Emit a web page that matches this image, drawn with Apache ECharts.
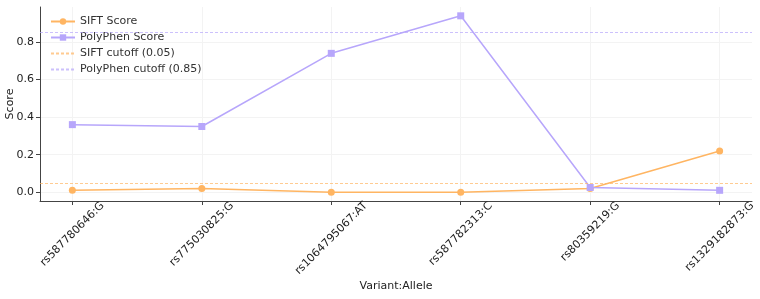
<!DOCTYPE html>
<html>
<head>
<meta charset="utf-8">
<script src="https://cdn.jsdelivr.net/npm/echarts@6/dist/echarts.min.js"></script>
<style>
    html, body { margin: 0; padding: 0; background: #fff; }
    #scoreChart { width: 760px; height: 299px; }
</style>
</head>
<body>
<div id="scoreChart"></div>
<script>
    // variants on the x axis
    var variants = ['rs587780646:G', 'rs775030825:G', 'rs1064795067:AT', 'rs587782313:C', 'rs80359219:G', 'rs1329182873:G'];
    var siftScores = [0.01, 0.02, 0.0, 0.0, 0.02, 0.22];
    var polyphenScores = [0.36, 0.35, 0.74, 0.94, 0.025, 0.01];
    var siftCutoff = 0.05;
    var polyphenCutoff = 0.85;
    var yTicks = [0, 0.2, 0.4, 0.6, 0.8];

    var siftColor = '#ffb562';
    var polyColor = '#b7a6fb';
    var font = 'DejaVu Sans';

    function toPoints(values) {
        return values.map(function (v, i) { return [i, v]; });
    }
    var xTicks = variants.map(function (v, i) { return i; });

    // rotated labels are centred under their tick (matplotlib style):
    // each one has to move right by half its rotated width.
    // common part -> negative padding along the text + extra margin,
    // the rest -> small offset of the label value
    var xMin = -0.25, xMax = 5.25, plotWidth = 760 - 40 - 8;
    var ctx = document.createElement('canvas').getContext('2d');
    ctx.font = '11px "' + font + '"';
    var shifts = variants.map(function (v) {
        return ctx.measureText(v).width / (2 * Math.SQRT2);
    });
    var baseShift = Math.min.apply(null, shifts);
    var xLabelPos = shifts.map(function (s, i) {
        return i + (s - baseShift) * (xMax - xMin) / plotWidth;
    });

    var option = {
        animation: false,
        textStyle: { fontFamily: font },
        legend: {
            orient: 'vertical',
            left: 45,
            top: 11,
            itemWidth: 24,
            itemHeight: 8,
            itemGap: 5,
            textStyle: { fontFamily: font, fontSize: 11, color: '#333' },
            data: ['SIFT Score', 'PolyPhen Score', 'SIFT cutoff (0.05)', 'PolyPhen cutoff (0.85)']
        },
        grid: { left: 40, right: 8, top: 7, bottom: 98, outerBoundsMode: 'none', containLabel: false },
        xAxis: {
            type: 'value',
            min: xMin,
            max: xMax,
            name: 'Variant:Allele',
            nameLocation: 'middle',
            nameGap: 80,
            nameMoveOverlap: false,
            nameTextStyle: { fontFamily: font, fontSize: 11, color: '#222' },
            axisLine: { onZero: false, lineStyle: { color: '#444', width: 1 } },
            axisTick: { customValues: xTicks, length: 4, lineStyle: { color: '#444' } },
            axisLabel: {
                customValues: xLabelPos,
                rotate: 45,
                fontFamily: font,
                fontSize: 11,
                color: '#222',
                margin: 3 + baseShift,
                padding: [0, -baseShift * Math.SQRT2, 0, 0],
                formatter: function (v) { return variants[Math.round(v)]; }
            },
            splitLine: { show: true, lineStyle: { color: '#f3f3f3', width: 1 } }
        },
        yAxis: {
            type: 'value',
            min: -0.047,
            max: 0.987,
            name: 'Score',
            nameLocation: 'middle',
            nameGap: 24,
            nameMoveOverlap: false,
            nameTextStyle: { fontFamily: font, fontSize: 11, color: '#222' },
            axisLine: { show: true, onZero: false, lineStyle: { color: '#444', width: 1 } },
            axisTick: { show: true, customValues: yTicks, length: 4, lineStyle: { color: '#444' } },
            axisLabel: {
                customValues: yTicks,
                fontFamily: font,
                fontSize: 11,
                color: '#222',
                margin: 6,
                formatter: function (v) { return v.toFixed(1); }
            },
            splitLine: { show: true, lineStyle: { color: '#f3f3f3', width: 1 } }
        },
        series: [
            {
                name: 'SIFT Score',
                type: 'line',
                data: toPoints(siftScores),
                symbol: 'circle',
                symbolSize: 7,
                itemStyle: { color: siftColor },
                lineStyle: { color: siftColor, width: 1.5 },
                z: 3
            },
            {
                name: 'PolyPhen Score',
                type: 'line',
                data: toPoints(polyphenScores),
                symbol: 'rect',
                symbolSize: 7,
                itemStyle: { color: polyColor },
                lineStyle: { color: polyColor, width: 1.5 },
                z: 4
            },
            // cutoff lines: empty series so they get a legend entry, drawn with markLine
            {
                name: 'SIFT cutoff (0.05)',
                type: 'line',
                data: [],
                symbol: 'none',
                itemStyle: { color: 'rgba(255,181,98,0.7)', opacity: 0 },
                lineStyle: { color: 'rgba(255,181,98,0.7)', type: [3, 2], width: 1 },
                markLine: {
                    silent: true,
                    symbol: 'none',
                    label: { show: false },
                    lineStyle: { color: 'rgba(255,181,98,0.7)', type: [3, 2], width: 1, opacity: 1 },
                    data: [{ yAxis: siftCutoff }]
                }
            },
            {
                name: 'PolyPhen cutoff (0.85)',
                type: 'line',
                data: [],
                symbol: 'none',
                itemStyle: { color: 'rgba(183,166,251,0.7)', opacity: 0 },
                lineStyle: { color: 'rgba(183,166,251,0.7)', type: [3, 2], width: 1 },
                markLine: {
                    silent: true,
                    symbol: 'none',
                    label: { show: false },
                    lineStyle: { color: 'rgba(183,166,251,0.7)', type: [3, 2], width: 1, opacity: 1 },
                    data: [{ yAxis: polyphenCutoff }]
                }
            }
        ]
    };

    var scoreChart = echarts.init(document.getElementById('scoreChart'));
    scoreChart.setOption(option);
</script>
</body>
</html>
